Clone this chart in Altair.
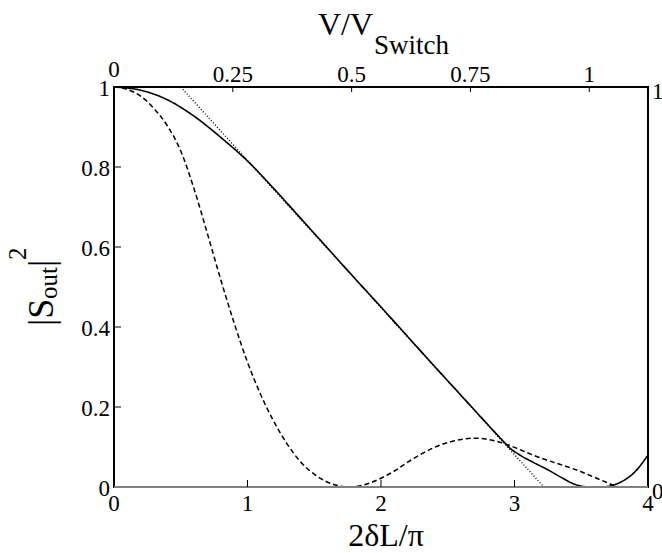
import altair as alt
import pandas as pd

# ---------------- data ----------------
solid_x = [0.0, 0.2, 0.4, 0.6, 0.8, 1.0, 1.2, 1.4, 1.6, 1.8, 2.0, 2.2, 2.4, 2.6, 2.8, 2.9,
           2.97, 3.04, 3.15, 3.25, 3.35, 3.45, 3.52, 3.6, 3.66, 3.72, 3.8, 3.9, 4.0]
solid_y = [1.0, 0.992, 0.968, 0.927, 0.874, 0.815, 0.745, 0.671, 0.597, 0.523, 0.45, 0.376, 0.302, 0.229, 0.156, 0.12,
           0.096, 0.08, 0.06, 0.043, 0.024, 0.007, 0.001, 0.0, 0.0, 0.003, 0.013, 0.037, 0.08]

dashed_x = [0.0, 0.1, 0.2, 0.3, 0.4, 0.5, 0.6, 0.7, 0.8, 0.9, 1.0, 1.1, 1.2, 1.3, 1.4, 1.5, 1.6, 1.7,
            1.75, 1.8, 1.9, 2.0, 2.1, 2.2, 2.3, 2.4, 2.5, 2.6, 2.7, 2.8, 2.9, 3.0, 3.1, 3.2, 3.3,
            3.4, 3.5, 3.6, 3.7, 3.75, 3.8, 4.0]
dashed_y = [1.0, 0.994, 0.977, 0.946, 0.903, 0.84, 0.745, 0.633, 0.518, 0.41, 0.312, 0.23, 0.162, 0.106, 0.062, 0.032, 0.012, 0.002,
            0.0, 0.001, 0.008, 0.022, 0.04, 0.062, 0.082, 0.099, 0.111, 0.119, 0.122, 0.119, 0.111, 0.099, 0.085, 0.072, 0.061,
            0.05, 0.038, 0.024, 0.01, 0.003, 0.0, 0.0]

dotted_x = [0.5, 3.22]
dotted_y = [1.0, 0.0]

bottom_ticks = [0, 1, 2, 3, 4]
bottom_labels = ["0", "1", "2", "3", "4"]
left_ticks = [0, 0.2, 0.4, 0.6, 0.8, 1]
left_labels = ["0", "0.2", "0.4", "0.6", "0.8", "1"]
top_ticks = [0, 0.25, 0.5, 0.75, 1]
top_labels = ["0", "0.25", "0.5", "0.75", "1"]
right_ticks = [0, 1]
right_labels = ["0", "1"]
V_SWITCH_AT = 3.56  # value of 2δL/π where V = V_Switch

FONT = "Liberation Serif"
W, H = 534, 400

rows = []
for xv, yv in zip(solid_x, solid_y):
    rows.append({"x": xv, "y": yv, "s": "solid"})
for xv, yv in zip(dashed_x, dashed_y):
    rows.append({"x": xv, "y": yv, "s": "dashed"})
for xv, yv in zip(dotted_x, dotted_y):
    rows.append({"x": xv, "y": yv, "s": "dotted"})
curves_df = pd.DataFrame(rows)

xs = alt.Scale(domain=[0, 4], nice=False, zero=False)
ys = alt.Scale(domain=[0, 1], nice=False, zero=False)

curves = alt.Chart(curves_df).mark_line(color="black", interpolate="monotone").encode(
    x=alt.X("x:Q", scale=xs, axis=None),
    y=alt.Y("y:Q", scale=ys, axis=None),
    detail="s:N",
    strokeDash=alt.StrokeDash("s:N", scale=alt.Scale(domain=["solid", "dashed", "dotted"],
                                                      range=[[1, 0], [5, 3], [1, 2]]), legend=None),
    strokeWidth=alt.StrokeWidth("s:N", scale=alt.Scale(domain=["solid", "dashed", "dotted"],
                                                        range=[1.6, 1.4, 1.0]), legend=None),
)

# gray bottom frame line
bottom_line = alt.Chart(pd.DataFrame({"a": [0]})).mark_rule(color="#808080", strokeWidth=2).encode(
    x=alt.value(0), x2=alt.value(W), y=alt.value(H))

# inward ticks
bt = alt.Chart(pd.DataFrame({"t": bottom_ticks[1:-1]})).mark_rule(color="black", strokeWidth=1).encode(
    x=alt.X("t:Q", scale=xs, axis=None), y=alt.value(H), y2=alt.value(H - 7))
lt = alt.Chart(pd.DataFrame({"t": left_ticks[1:-1]})).mark_rule(color="black", strokeWidth=1).encode(
    y=alt.Y("t:Q", scale=ys, axis=None), x=alt.value(0), x2=alt.value(7))

# tick labels
bl = alt.Chart(pd.DataFrame({"t": bottom_ticks, "lab": bottom_labels})).mark_text(
    font=FONT, fontSize=23, color="black", align="center", baseline="top").encode(
    x=alt.X("t:Q", scale=xs, axis=None), y=alt.value(H + 6), text="lab:N")
ll = alt.Chart(pd.DataFrame({"t": left_ticks, "lab": left_labels})).mark_text(
    font=FONT, fontSize=23, color="black", align="right", baseline="middle", dy=2).encode(
    y=alt.Y("t:Q", scale=ys, axis=None), x=alt.value(-4), text="lab:N")

# top axis (V / V_Switch), positioned through the bottom scale
top_df = pd.DataFrame({"v": top_ticks, "lab": top_labels})
top_base = alt.Chart(top_df).transform_calculate(pos=f"datum.v * {V_SWITCH_AT}")
tt = top_base.transform_filter("datum.v > 0").mark_rule(color="black", strokeWidth=1).encode(
    x=alt.X("pos:Q", scale=xs, axis=None), y=alt.value(0), y2=alt.value(5))
tl = top_base.transform_filter("datum.v > 0").mark_text(
    font=FONT, fontSize=23, color="black", align="center", baseline="alphabetic").encode(
    x=alt.X("pos:Q", scale=xs, axis=None), y=alt.value(-5), text="lab:N")
tl0 = top_base.transform_filter("datum.v == 0").mark_text(
    font=FONT, fontSize=23, color="black", align="center", baseline="alphabetic").encode(
    x=alt.X("pos:Q", scale=xs, axis=None), y=alt.value(-10), text="lab:N")

# right axis labels
rl = alt.Chart(pd.DataFrame({"v": right_ticks, "lab": right_labels})).mark_text(
    font=FONT, fontSize=23, color="black", align="left", baseline="middle", dx=4, dy=5).encode(
    y=alt.Y("v:Q", scale=ys, axis=None), x=alt.value(W), text="lab:N")


def txt(s, size, x, y, angle=0, align="left"):
    return alt.Chart(pd.DataFrame({"t": [s]})).mark_text(
        font=FONT, fontSize=size, color="black", align=align, baseline="alphabetic", angle=angle
    ).encode(text="t:N", x=alt.value(x), y=alt.value(y))


titles = [
    txt("2δL/π", 32, W / 2 + 5, 459, align="center"),
    txt("V/V", 32, 204, -52),
    txt("Switch", 27, 260, -33),
    txt("|S", 36, -61, 239, 270),
    txt("out", 25, -57, 212, 270),
    txt("|", 36, -61, 180, 270),
    txt("2", 25, -88, 173, 270),
]

chart = alt.layer(curves, bottom_line, bt, lt, tt, bl, ll, tl, tl0, rl, *titles).properties(
    width=W, height=H, autosize="none",
    padding={"left": 114, "top": 87, "right": 14, "bottom": 66},
    background="white",
).configure_view(stroke="black", strokeWidth=2)

chart.save("out.html", embed_options={"renderer": "svg", "actions": False})
